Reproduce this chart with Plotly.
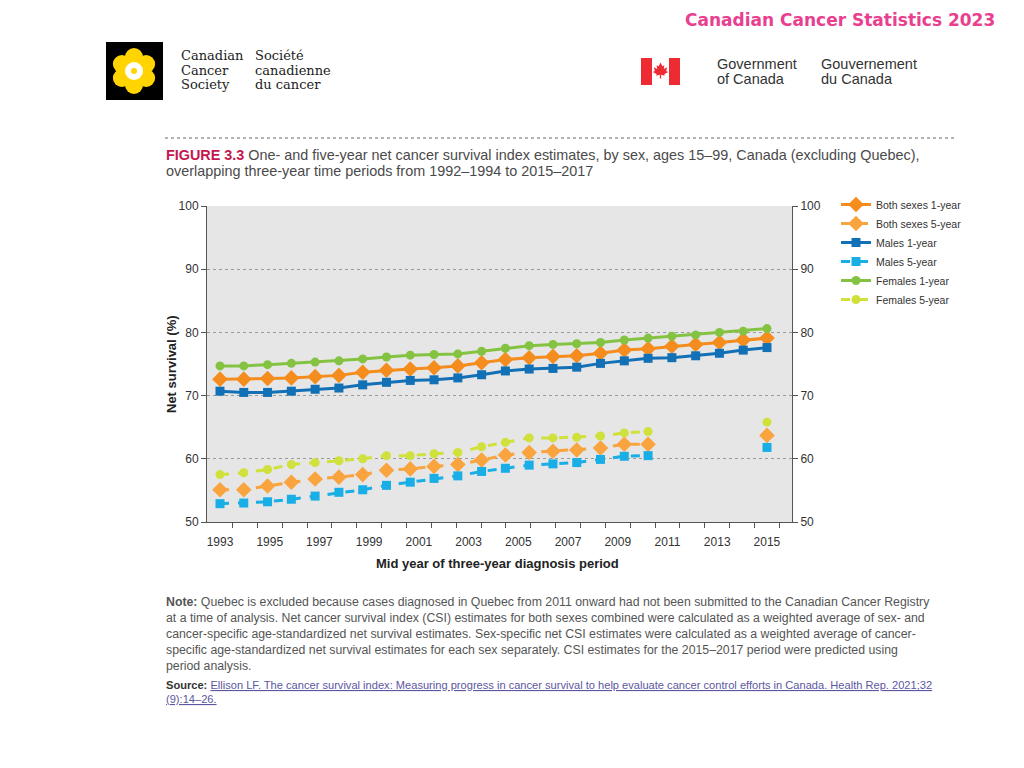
import math
import plotly.graph_objects as go

# ---------------- data ----------------
mid_years = list(range(1993, 2017))          # periods 1992-1994 ... 2015-2017
x_tick_labels = list(range(1993, 2016, 2))
y_ticks = [50, 60, 70, 80, 90, 100]
y_grid = [60, 70, 80, 90]

both_1yr = [72.6, 72.6, 72.7, 72.8, 73.0, 73.2, 73.7, 74.0, 74.2, 74.4, 74.7, 75.2,
            75.7, 76.0, 76.2, 76.3, 76.7, 77.2, 77.4, 77.8, 78.1, 78.4, 78.8, 79.1]
both_5yr = [55.1, 55.1, 55.7, 56.3, 56.8, 57.1, 57.5, 58.2, 58.4, 58.8, 59.1, 59.8,
            60.6, 61.0, 61.2, 61.4, 61.7, 62.3, 62.3, None, None, None, None, 63.7]
males_1yr = [70.7, 70.5, 70.5, 70.7, 71.0, 71.2, 71.7, 72.1, 72.4, 72.5, 72.8, 73.3,
             73.9, 74.2, 74.3, 74.5, 75.1, 75.5, 75.9, 76.0, 76.3, 76.7, 77.2, 77.6]
males_5yr = [52.9, 53.0, 53.2, 53.6, 54.1, 54.7, 55.1, 55.8, 56.3, 56.9, 57.3, 58.0,
             58.5, 59.0, 59.2, 59.4, 59.9, 60.4, 60.5, None, None, None, None, 61.8]
females_1yr = [74.7, 74.7, 74.9, 75.1, 75.3, 75.5, 75.8, 76.1, 76.4, 76.5, 76.6, 77.0,
               77.5, 77.9, 78.1, 78.2, 78.4, 78.8, 79.1, 79.4, 79.6, 80.0, 80.2, 80.6]
females_5yr = [57.5, 57.8, 58.3, 59.1, 59.4, 59.7, 60.0, 60.5, 60.5, 60.8, 61.0, 61.9,
               62.6, 63.3, 63.3, 63.4, 63.6, 64.1, 64.3, None, None, None, None, 65.8]

series_names = ["Both sexes 1-year", "Both sexes 5-year", "Males 1-year",
                "Males 5-year", "Females 1-year", "Females 5-year"]

title_line1 = "One- and five-year net cancer survival index estimates, by sex, ages 15–99, Canada (excluding Quebec),"
title_line2 = "overlapping three-year time periods from 1992–1994 to 2015–2017"
note_lines = [
    "<b>Note:</b> Quebec is excluded because cases diagnosed in Quebec from 2011 onward had not been submitted to the Canadian Cancer Registry",
    "at a time of analysis. Net cancer survival index (CSI) estimates for both sexes combined were calculated as a weighted average of sex- and",
    "cancer-specific age-standardized net survival estimates. Sex-specific net CSI estimates were calculated as a weighted average of cancer-",
    "specific age-standardized net survival estimates for each sex separately. CSI estimates for the 2015–2017 period were predicted using",
    "period analysis.",
]
source_lines = [
    "Ellison LF. The cancer survival index: Measuring progress in cancer survival to help evaluate cancer control efforts in Canada. Health Rep. 2021;32",
    "(9):14–26.",
]

# ---------------- helpers ----------------
W, H = 1024, 768
def px(x):
    return x / W
def py(y):
    return 1 - y / H

PL, PR, PT, PB = 207, 792, 206, 522     # plot area in pixels
SANS = "Liberation Sans, Arial, sans-serif"
SERIF = "DejaVu Serif, Liberation Serif, serif"

fig = go.Figure()

styles = [
    (both_1yr, "#f58c1e", "solid", "diamond", 12),
    (both_5yr, "#f9a43e", "dash", "diamond", 12),
    (males_1yr, "#1170b6", "solid", "square", 9),
    (males_5yr, "#19aee6", "dash", "square", 9),
    (females_1yr, "#84c341", "solid", "circle", 9),
    (females_5yr, "#cfe13a", "dash", "circle", 9),
]
for name, (vals, col, dash, sym, size) in zip(series_names, styles):
    fig.add_trace(go.Scatter(
        x=mid_years, y=vals, name=name, mode="lines+markers",
        xaxis="x", yaxis="y", connectgaps=False,
        line=dict(color=col, width=3, dash=dash),
        marker=dict(color=col, symbol=sym, size=size),
    ))

# empty helper traces so the overlaid label/tick axes get drawn
for xa, ya in [("x2", "y"), ("x3", "y"), ("x", "y2"), ("x", "y3")]:
    fig.add_trace(go.Scatter(x=[], y=[], xaxis=xa, yaxis=ya, showlegend=False,
                             hoverinfo="skip", mode="markers"))

# point axis: first period centred on "1993" label, last on "2015" label (as in source graphic)
u = (mid_years[-1] - mid_years[0]) / (767 - 220)
x_points_range = [mid_years[0] - (220 - PL) * u, mid_years[-1] + (PR - 767) * u]
yr = 1 / 24.86
x_label_range = [1993 - (220 - PL) * yr, 1993 + (PR - 220) * yr]
boundaries = [y + 0.5 for y in range(1993, 2016)]

axis_font = dict(family=SANS, size=12, color="#333")
fig.update_layout(
    width=W, height=H, margin=dict(l=0, r=0, t=0, b=0, autoexpand=False),
    paper_bgcolor="white", plot_bgcolor="#e6e6e6",
    template="none",
    xaxis=dict(domain=[px(PL), px(PR)], range=x_points_range,
               showticklabels=False, ticks="", showline=True, linecolor="#555",
               linewidth=1, showgrid=False, zeroline=False, anchor="y",
               automargin=False),
    xaxis2=dict(overlaying="x", range=x_label_range, tickvals=x_tick_labels,
                side="bottom", anchor="y", ticks="outside", ticklen=9,
                tickcolor="rgba(0,0,0,0)", showline=False, showgrid=False,
                zeroline=False, tickfont=axis_font, automargin=False),
    xaxis3=dict(overlaying="x", range=x_label_range, tickvals=boundaries,
                side="bottom", anchor="y", ticks="outside", ticklen=5, tickcolor="#555",
                showticklabels=False, showline=False, showgrid=False, zeroline=False,
                automargin=False),
    yaxis=dict(domain=[py(PB), py(PT)], range=[50, 100], tickvals=y_ticks,
               ticks="outside", ticklen=5, tickcolor="#555", showline=True,
               linecolor="#555", linewidth=1, showgrid=False, zeroline=False,
               tickfont=axis_font, anchor="x", automargin=False),
    yaxis2=dict(overlaying="y", side="right", range=[50, 100], tickvals=y_ticks,
                ticks="outside", ticklen=5, tickcolor="#555", showline=True,
                linecolor="#555", linewidth=1, showgrid=False, zeroline=False,
                tickfont=axis_font, anchor="x", automargin=False),
    yaxis3=dict(overlaying="y", range=[50, 100], tickvals=y_grid, ticks="",
                showticklabels=False, showline=False, showgrid=True,
                gridcolor="#9a9a9a", griddash="dot", gridwidth=1, zeroline=False,
                anchor="x", automargin=False),
    showlegend=True,
    legend=dict(x=px(836), y=py(190), xanchor="left", yanchor="top",
                bgcolor="rgba(0,0,0,0)", font=dict(family=SANS, size=10.5, color="#333"),
                tracegroupgap=0, itemwidth=30),
)

ann = []
def text(x, y, s, size=12, color="#333", family=SANS, xanchor="left", angle=0):
    ann.append(dict(x=px(x), y=py(y), xref="paper", yref="paper", text=s,
                    showarrow=False, xanchor=xanchor, yanchor="middle",
                    font=dict(family=family, size=size, color=color), textangle=angle))

# header
text(997, 20, "<b>Canadian Cancer Statistics 2023</b>", size=17, color="#e8408f",
     family="DejaVu Sans, sans-serif", xanchor="right")
for i, s in enumerate(["Canadian", "Cancer", "Society"]):
    text(179, 56 + 14 * i, s, size=13, color="#222", family=SERIF)
for i, s in enumerate(["Société", "canadienne", "du cancer"]):
    text(253, 56 + 14 * i, s, size=13, color="#222", family=SERIF)
for i, s in enumerate(["Government", "of Canada"]):
    text(715, 64 + 15 * i, s, size=14.5, color="#333")
for i, s in enumerate(["Gouvernement", "du Canada"]):
    text(819, 64 + 15 * i, s, size=14.5, color="#333")

# figure title
text(164, 155, "<b><span style='color:#c4174f'>FIGURE 3.3</span></b> " + title_line1,
     size=14.4, color="#4a4a4a")
text(164, 171, title_line2, size=14.4, color="#4a4a4a")

# axis titles
text(172, 364, "<b>Net survival (%)</b>", size=13, color="#222", xanchor="center", angle=-90)
text(497, 563, "<b>Mid year of three-year diagnosis period</b>", size=13, color="#222",
     xanchor="center")

# note + source
for i, s in enumerate(note_lines):
    text(164, 602 + 16 * i, s, size=12.3, color="#555")
text(164, 685, "<b>Source:</b> <span style='color:#5b57a0;text-decoration:underline'>"
     + source_lines[0] + "</span>", size=11.1, color="#333")
text(164, 699, "<span style='color:#5b57a0;text-decoration:underline'>" + source_lines[1]
     + "</span>", size=11.1, color="#333")
fig.update_layout(annotations=ann)

# shapes: separator, logos
shapes = []
shapes.append(dict(type="line", xref="paper", yref="paper", x0=px(165), x1=px(955),
                   y0=py(138), y1=py(138), line=dict(color="#9a9a9a", width=1.5, dash="dot")))
# Canadian Cancer Society daffodil
shapes.append(dict(type="rect", xref="paper", yref="paper", x0=px(106), x1=px(163),
                   y0=py(100), y1=py(42), fillcolor="black", line=dict(width=0)))
cx, cy = 134, 71
for k in range(6):
    a = math.radians(90 + 60 * k)
    ex, ey = cx + 14 * math.cos(a), cy - 14 * math.sin(a)
    shapes.append(dict(type="circle", xref="paper", yref="paper",
                       x0=px(ex - 9), x1=px(ex + 9), y0=py(ey + 9), y1=py(ey - 9),
                       fillcolor="#ffd400", line=dict(width=0)))
shapes.append(dict(type="circle", xref="paper", yref="paper", x0=px(cx - 9), x1=px(cx + 9),
                   y0=py(cy + 9), y1=py(cy - 9), fillcolor="white", line=dict(width=0)))
shapes.append(dict(type="circle", xref="paper", yref="paper", x0=px(cx - 3), x1=px(cx + 3),
                   y0=py(cy + 3), y1=py(cy - 3), fillcolor="#ffd400", line=dict(width=0)))
# Canada flag
for x0, x1 in [(641, 652), (669, 680)]:
    shapes.append(dict(type="rect", xref="paper", yref="paper", x0=px(x0), x1=px(x1),
                       y0=py(85), y1=py(58), fillcolor="#ee2b33", line=dict(width=0)))
leaf = [(0, -8), (2, -4), (4, -5), (3.5, -1), (7, -3), (6, 1), (8, 2), (4, 4.5), (4.5, 6),
        (0.7, 5), (0.7, 9), (-0.7, 9), (-0.7, 5), (-4.5, 6), (-4, 4.5), (-8, 2), (-6, 1),
        (-7, -3), (-3.5, -1), (-4, -5), (-2, -4)]
fx, fy = 660.5, 70
path = "M " + " L ".join(f"{px(fx + dx * 0.95):.5f},{py(fy + dy * 0.95):.5f}" for dx, dy in leaf) + " Z"
shapes.append(dict(type="path", xref="paper", yref="paper", path=path,
                   fillcolor="#ee2b33", line=dict(width=0)))
fig.update_layout(shapes=shapes)

fig.write_html("out.html", config={"displayModeBar": False},
               post_script="document.body.style.margin='0';")
